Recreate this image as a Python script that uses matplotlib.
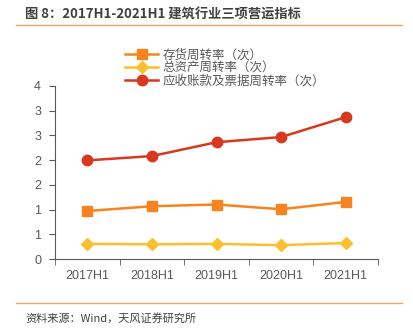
import numpy as np
import matplotlib.pyplot as plt
from matplotlib.lines import Line2D
from matplotlib.ticker import FixedLocator, FuncFormatter

plt.rcParams['font.family'] = ['Liberation Sans', 'Noto Sans CJK SC', 'DejaVu Sans']

periods = ['2017H1', '2018H1', '2019H1', '2020H1', '2021H1']
inventory = [1.11, 1.22, 1.26, 1.15, 1.32]
total_assets = [0.35, 0.34, 0.35, 0.32, 0.37]
receivables = [2.28, 2.38, 2.70, 2.82, 3.28]
names = ['存货周转率（次）', '总资产周转率（次）', '应收账款及票据周转率（次）']

c_orange = '#F7841E'
c_yellow = '#FCBF2E'
c_red = '#D7381E'
grey = '#595959'

fig = plt.figure(figsize=(4.14, 3.32), dpi=100)
ax = fig.add_axes([55/414, 1-259/332, (378-55)/414, (259-86)/332])

x = np.arange(len(periods))
ax.plot(x, inventory, color=c_orange, lw=1.8, marker='s', ms=7, zorder=3)
ax.plot(x, total_assets, color=c_yellow, lw=1.8, marker='D', ms=6, zorder=3)
ax.plot(x, receivables, color=c_red, lw=1.8, marker='o', ms=7.5, zorder=3)

ax.set_xlim(-0.5, len(periods) - 0.5)
ax.set_ylim(0, 4)
ax.yaxis.set_major_locator(FixedLocator(np.linspace(0, 4, 8)))
ax.yaxis.set_major_formatter(FuncFormatter(lambda v, p: '%.0f' % v))
ax.set_xticks(x)
ax.set_xticklabels(periods)
ax.set_xticks(np.arange(len(periods) + 1) - 0.5, minor=True)
ax.tick_params(axis='x', which='major', length=0, pad=8, labelsize=9, labelcolor=grey)
ax.tick_params(axis='x', which='minor', length=4, color=grey)
ax.tick_params(axis='y', length=4, labelsize=9, labelcolor=grey, color=grey, pad=6)

for s in ['top', 'right']:
    ax.spines[s].set_visible(False)
for s in ['left', 'bottom']:
    ax.spines[s].set_color(grey)
    ax.spines[s].set_linewidth(0.8)

handles = [
    Line2D([], [], color=c_orange, lw=1.8, marker='s', ms=7),
    Line2D([], [], color=c_yellow, lw=1.8, marker='D', ms=6),
    Line2D([], [], color=c_red, lw=1.8, marker='o', ms=7.5),
]
fig.legend(handles, names, loc='upper left', bbox_to_anchor=(114/414, 1-37/332),
           frameon=False, handlelength=2.6, labelspacing=0.02,
           handletextpad=0.4, labelcolor=grey,
           prop={'family': ['Noto Sans CJK SC'], 'size': 9})

fig.text(25/414, 1-15/332, '图 8：2017H1-2021H1 建筑行业三项营运指标',
         fontsize=9.5, fontweight='bold', color='#404040', va='center',
         family=['Noto Sans CJK SC', 'DejaVu Sans'])
fig.add_artist(Line2D([16/414, 402/414], [1-25/332, 1-25/332], color='#F4A36A', lw=1))
fig.add_artist(Line2D([16/414, 402/414], [1-303/332, 1-303/332], color='#F4A36A', lw=1))
fig.text(25/414, 1-318/332, '资料来源：Wind，天风证券研究所',
         fontsize=8, color='#404040', va='center',
         family=['Noto Sans CJK SC', 'DejaVu Sans'])

fig.savefig('out.png', dpi=100)
